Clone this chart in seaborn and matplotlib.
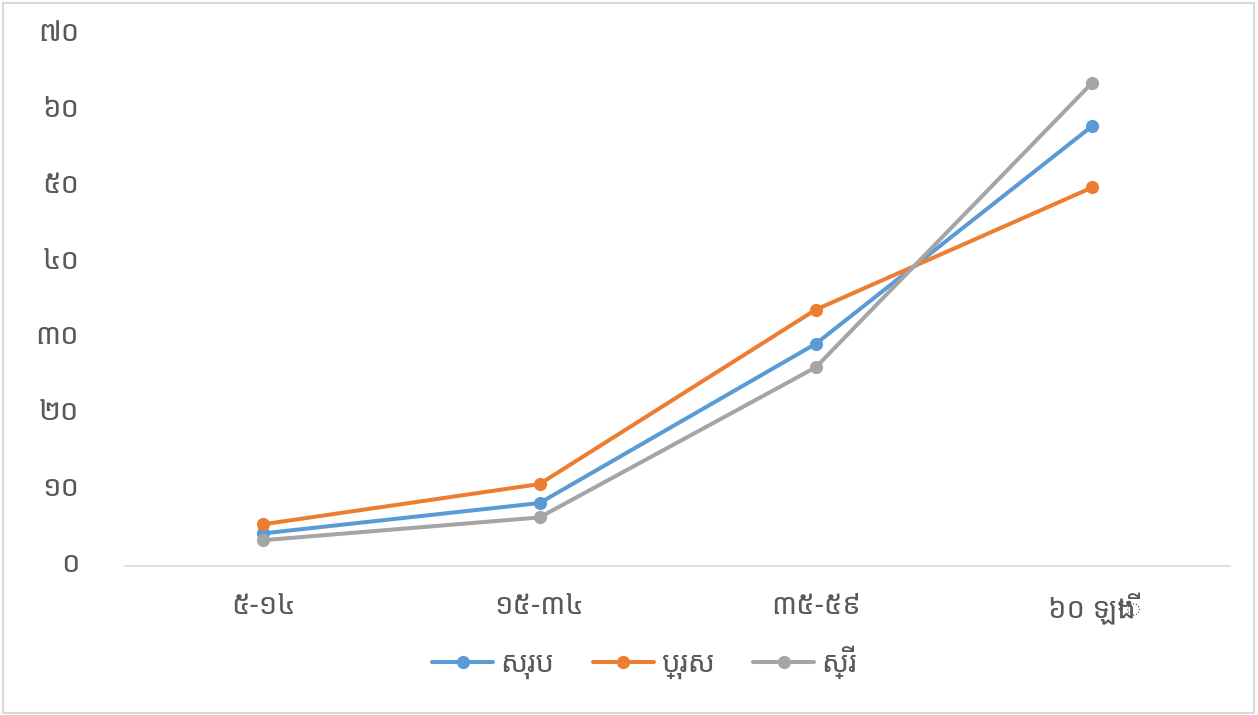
import matplotlib
matplotlib.use("Agg")
import matplotlib.pyplot as plt
from matplotlib.patches import Rectangle
from matplotlib.transforms import ScaledTranslation
import seaborn as sns
import pandas as pd

categories = ["៥-១៤", "១៥-៣៤", "៣៥-៥៩", "៦០ ឡើង"]
series_names = ["សរុប", "ប្រុស", "ស្រី"]
total_vals = [4.3, 8.3, 29.3, 58.0]
male_vals = [5.5, 10.8, 33.8, 49.9]
female_vals = [3.4, 6.4, 26.2, 63.7]
ytick_vals = [0, 10, 20, 30, 40, 50, 60, 70]
ytick_labels = ["០", "១០", "២០", "៣០", "៤០", "៥០", "៦០", "៧០"]
colors = ["#5B9BD5", "#ED7D31", "#A5A5A5"]

rows = []
for name, vals in zip(series_names, [total_vals, male_vals, female_vals]):
    for i, (c, v) in enumerate(zip(categories, vals)):
        rows.append({"pos": i, "cat": c, "value": v, "series": name})
df = pd.DataFrame(rows)

sns.set_theme(style="white")
fams = ["Noto Sans Khmer", "Khmer OS", "Khmer OS System", "Leelawadee UI", "DejaVu Sans"]
plt.rcParams["font.family"] = fams

fig = plt.figure(figsize=(12.58, 7.15), dpi=100)
ax = fig.add_axes([0.0994, 0.2084, 0.8786, 0.7426])

sns.lineplot(data=df, x="pos", y="value", hue="series", hue_order=series_names,
             palette=colors, marker="o", markersize=9.5, markeredgewidth=0,
             linewidth=2.9, ax=ax, legend=True)

ax.set_xlim(-0.5, 3.5)
ax.set_ylim(0, 70)
ax.set_xticks(range(len(categories)))
ax.set_xticklabels(categories, fontsize=21, color="#595959")
ax.set_yticks(ytick_vals)
ax.set_yticklabels(ytick_labels, fontsize=21, color="#595959")
ax.tick_params(axis="x", length=0, pad=19)
ax.tick_params(axis="y", length=0, pad=33)
for lab in ax.get_yticklabels():
    lab.set_transform(lab.get_transform() + ScaledTranslation(0, 5 / 100, fig.dpi_scale_trans))
ax.set_xlabel("")
ax.set_ylabel("")
for s in ["top", "right", "left"]:
    ax.spines[s].set_visible(False)
ax.spines["bottom"].set_color("#d9d9d9")
ax.spines["bottom"].set_linewidth(1.2)
ax.grid(False)

handles, labels = ax.get_legend_handles_labels()
leg = ax.legend(handles, labels, loc="upper center", bbox_to_anchor=(0.47, -0.1),
                ncol=3, frameon=False, fontsize=21, handlelength=2.1,
                columnspacing=1.3, handletextpad=0.25)
for t in leg.get_texts():
    t.set_color("#595959")

fig.patches.append(Rectangle((0.002, 0.003), 0.995, 0.993, transform=fig.transFigure,
                             fill=False, edgecolor="#d9d9d9", linewidth=1.5))

fig.savefig("out.png", dpi=100, facecolor="white")
